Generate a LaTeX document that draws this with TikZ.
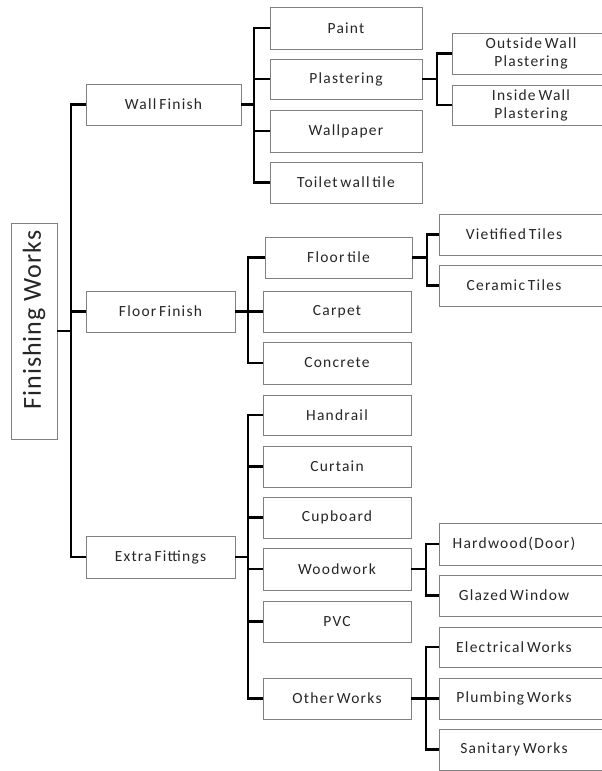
\documentclass[tikz,border=0pt]{standalone}
\usepackage{fontspec}
\setmainfont{Carlito}[LetterSpace=8,WordSpace=0.6]
\newfontfamily\myrootfont{Carlito}[LetterSpace=4]
\newcommand{\myshiftL}[1]{\hspace*{-17pt}#1}
\begin{document}
\begin{tikzpicture}[x=1pt,y=-1pt,
  box/.style={draw=black!50, line width=0.9pt, inner sep=0pt, minimum height=41pt,
    text=black!85, font=\fontsize{15.5}{18}\selectfont, anchor=center, align=center},
  conn/.style={line width=2.2pt, black}]
\useasboundingbox (0,0) rectangle (602,771);
\clip (0,0) rectangle (602,771);
\fill[white] (0,0) rectangle (602,771);

% root
\node[box, rotate=90, minimum width=216pt, minimum height=46pt, font=\myrootfont\fontsize{26}{30}\selectfont] (root) at (34,331) {\hspace*{22pt}Finishing Works};

% level 1
\node[box, minimum width=155pt] (wall) at (163.5,104.5) {Wall Finish};
\node[box, minimum width=149pt] (floor) at (160.5,311.5) {Floor Finish};
\node[box, minimum width=149pt, minimum height=42pt] (extra) at (160.5,557) {Extra Fittings};

% level 2 - wall
\node[box, minimum width=152pt, minimum height=42pt] (paint) at (346,28) {Paint};
\node[box, minimum width=152pt, minimum height=40pt] (plaster) at (346,79) {Plastering};
\node[box, minimum width=152pt, minimum height=42pt] (wallpaper) at (346,131) {Wallpaper};
\node[box, minimum width=152pt] (toilet) at (346,182.5) {Toilet wall tile};

% level 2 - floor
\node[box, minimum width=147pt] (floortile) at (338.5,257.5) {Floor tile};
\node[box, minimum width=148pt] (carpet) at (337,311.5) {Carpet};
\node[box, minimum width=148pt, minimum height=42pt] (concrete) at (337,363) {Concrete};

% level 2 - extra
\node[box, minimum width=148pt, minimum height=40pt] (handrail) at (337,415) {Handrail};
\node[box, minimum width=148pt] (curtain) at (337,466.5) {Curtain};
\node[box, minimum width=148pt] (cupboard) at (337,517.5) {Cupboard};
\node[box, minimum width=148pt, minimum height=42pt] (woodwork) at (337,569) {Woodwork};
\node[box, minimum width=148pt] (pvc) at (337,621.5) {PVC};
\node[box, minimum width=148pt] (other) at (337,698.5) {Other Works};

% level 3
\node[box, minimum width=158pt] (outside) at (531,53.5) {Outside Wall\\Plastering};
\node[box, minimum width=158pt, minimum height=40pt] (inside) at (531,105) {Inside Wall\\Plastering};
\node[box, minimum width=167pt] (vitri) at (522.5,234.5) {\myshiftL{Vietified Tiles}};
\node[box, minimum width=167pt] (ceramic) at (522.5,285.5) {\myshiftL{Ceramic Tiles}};
\node[box, minimum width=167pt, minimum height=42pt] (hardwood) at (522.5,544) {\myshiftL{Hardwood(Door)}};
\node[box, minimum width=167pt] (glazed) at (522.5,595.5) {\myshiftL{Glazed Window}};
\node[box, minimum width=167pt, minimum height=40pt] (electrical) at (522.5,647) {\myshiftL{Electrical Works}};
\node[box, minimum width=167pt] (plumbing) at (522.5,698.5) {\myshiftL{Plumbing Works}};
\node[box, minimum width=167pt] (sanitary) at (522.5,749.5) {\myshiftL{Sanitary Works}};

% bus coordinates
\coordinate (t0) at (71,0);
\coordinate (b1) at (254,0);
\coordinate (b2) at (248,0);
\coordinate (c1) at (437,0);
\coordinate (c2) at (427,0);
\coordinate (c3) at (426,0);

% root trunk
\draw[conn] (root.south) -- (root.south -| t0);
\draw[conn] (wall.west) -- (wall.west -| t0) -- (extra.west -| t0) -- (extra.west);
\draw[conn] (floor.west) -- (floor.west -| t0);

% wall finish
\draw[conn] (wall.east) -- (wall.east -| b1);
\draw[conn] (paint.west) -- (paint.west -| b1) -- (toilet.west -| b1) -- (toilet.west);
\draw[conn] (plaster.west) -- (plaster.west -| b1);
\draw[conn] (wallpaper.west) -- (wallpaper.west -| b1);

% floor finish
\draw[conn] (floor.east) -- (floor.east -| b2);
\draw[conn] (floortile.west) -- (floortile.west -| b2) -- (concrete.west -| b2) -- (concrete.west);
\draw[conn] (carpet.west) -- (carpet.west -| b2);

% extra fittings
\draw[conn] (extra.east) -- (extra.east -| b2);
\draw[conn] (handrail.west) -- (handrail.west -| b2) -- (other.west -| b2) -- (other.west);
\draw[conn] (curtain.west) -- (curtain.west -| b2);
\draw[conn] (cupboard.west) -- (cupboard.west -| b2);
\draw[conn] (woodwork.west) -- (woodwork.west -| b2);
\draw[conn] (pvc.west) -- (pvc.west -| b2);

% plastering
\draw[conn] (plaster.east) -- (plaster.east -| c1);
\draw[conn] (outside.west) -- (outside.west -| c1) -- (inside.west -| c1) -- (inside.west);

% floor tile
\draw[conn] (floortile.east) -- (floortile.east -| c2);
\draw[conn] (vitri.west) -- (vitri.west -| c2) -- (ceramic.west -| c2) -- (ceramic.west);

% woodwork
\draw[conn] (woodwork.east) -- (woodwork.east -| c3);
\draw[conn] (hardwood.west) -- (hardwood.west -| c3) -- (glazed.west -| c3) -- (glazed.west);

% other works
\draw[conn] (other.east) -- (other.east -| c3);
\draw[conn] (electrical.west) -- (electrical.west -| c3) -- (sanitary.west -| c3) -- (sanitary.west);
\draw[conn] (plumbing.west) -- (plumbing.west -| c3);
\end{tikzpicture}
\end{document}
